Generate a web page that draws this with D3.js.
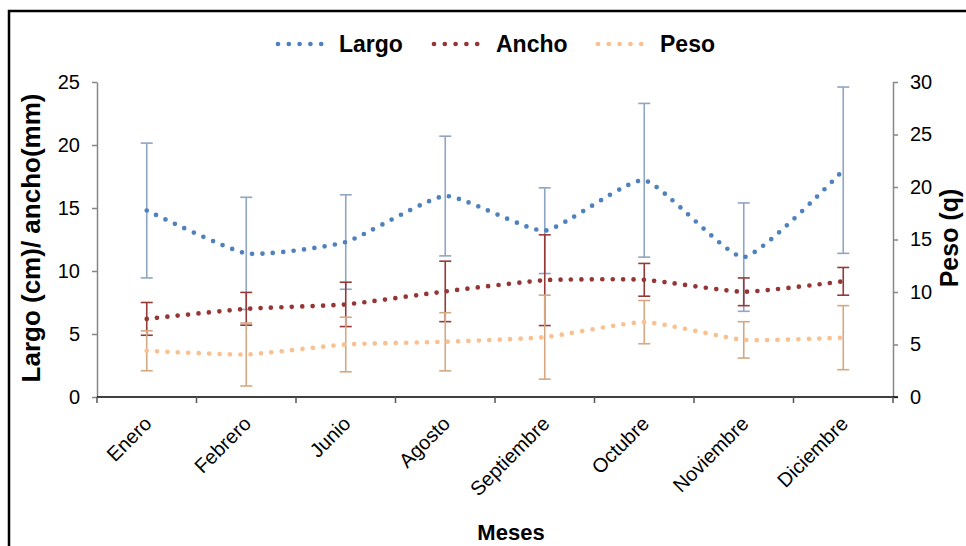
<!DOCTYPE html>
<html>
<head>
<meta charset="utf-8">
<script src="https://cdn.jsdelivr.net/npm/d3@7"></script>
<style>
  html, body { margin: 0; padding: 0; background: #fff; }
  svg { display: block; font-family: "Liberation Sans", Arial, sans-serif; }
</style>
</head>
<body>
<svg id="chart" width="966" height="546"></svg>
<script>
// Monthly measurements: mean and standard deviation per month
const months = ["Enero", "Febrero", "Junio", "Agosto", "Septiembre", "Octubre", "Noviembre", "Diciembre"];
const largo = [14.8, 11.4, 12.3, 15.95, 13.2, 17.2, 11.1, 18.0];
const largoSd = [5.35, 4.45, 3.75, 4.75, 3.4, 6.1, 4.3, 6.6];
const ancho = [6.2, 7.0, 7.35, 8.38, 9.27, 9.3, 8.35, 9.18];
const anchoSd = [1.3, 1.3, 1.76, 2.4, 3.6, 1.3, 1.1, 1.1];
const peso = [4.4, 4.05, 5.0, 5.26, 5.7, 7.13, 5.44, 5.65];
const pesoSd = [1.9, 3.0, 2.6, 2.77, 4.0, 2.06, 1.73, 3.05];
const leftTicks = [0, 5, 10, 15, 20, 25];
const rightTicks = [0, 5, 10, 15, 20, 25, 30];

const svg = d3.select("#chart");
const W = 966, H = 546;
const plot = { left: 97, right: 893, top: 82, bottom: 397 };

// Frame around the chart area
svg.append("path")
  .attr("d", `M9,${H} L9,11 L${W},11`)
  .attr("fill", "none").attr("stroke", "#000").attr("stroke-width", 2.5);

const x = d3.scaleBand().domain(months).range([plot.left, plot.right]);
const cx = m => x(m) + x.bandwidth() / 2;
const yL = d3.scaleLinear().domain([0, 25]).range([plot.bottom, plot.top]);
const yR = d3.scaleLinear().domain([0, 30]).range([plot.bottom, plot.top]);

// Left axis
const gL = svg.append("g").attr("transform", `translate(${plot.left},0)`)
  .call(d3.axisLeft(yL).tickValues(leftTicks).tickSize(5).tickSizeOuter(0).tickPadding(12));
gL.select(".domain").attr("stroke", "#868686").attr("stroke-width", 1.5);
gL.selectAll(".tick line").attr("stroke", "#868686").attr("stroke-width", 1.5);
gL.selectAll(".tick text").attr("font-size", 20).attr("fill", "#000")
  .attr("font-family", "Liberation Sans, Arial, sans-serif");

// Right axis
const gR = svg.append("g").attr("transform", `translate(${plot.right},0)`)
  .call(d3.axisRight(yR).tickValues(rightTicks).tickSize(5).tickSizeOuter(0).tickPadding(12));
gR.select(".domain").attr("stroke", "#868686").attr("stroke-width", 1.5);
gR.selectAll(".tick line").attr("stroke", "#868686").attr("stroke-width", 1.5);
gR.selectAll(".tick text").attr("font-size", 20).attr("fill", "#000")
  .attr("font-family", "Liberation Sans, Arial, sans-serif");

// Bottom axis: line with ticks at category boundaries
const gB = svg.append("g");
gB.append("line")
  .attr("x1", plot.left).attr("x2", plot.right + 5)
  .attr("y1", plot.bottom).attr("y2", plot.bottom)
  .attr("stroke", "#000").attr("stroke-width", 1.5);
const edges = months.map(m => x(m)).concat([x.range()[1]]);
gB.selectAll("line.tk").data(edges).join("line").attr("class", "tk")
  .attr("x1", d => d).attr("x2", d => d)
  .attr("y1", plot.bottom).attr("y2", plot.bottom + 6)
  .attr("stroke", "#555").attr("stroke-width", 1.5);
gB.selectAll("text.lab").data(months).join("text").attr("class", "lab")
  .attr("transform", d => `translate(${cx(d) + 6},${plot.bottom + 28}) rotate(-45)`)
  .attr("text-anchor", "end")
  .attr("font-size", 20).attr("fill", "#000")
  .text(d => d);

// Axis titles
svg.append("text")
  .attr("transform", `translate(31,238) rotate(-90)`)
  .attr("text-anchor", "middle").attr("dy", "0.35em")
  .attr("font-size", 26).attr("font-weight", "bold").text("Largo (cm)/ ancho(mm)");
svg.append("text")
  .attr("transform", `translate(950,238) rotate(-90)`)
  .attr("text-anchor", "middle").attr("dy", "0.3em")
  .attr("font-size", 25).attr("font-weight", "bold").text("Peso (q)");
svg.append("text")
  .attr("x", 511).attr("y", 540)
  .attr("text-anchor", "middle")
  .attr("font-size", 22).attr("font-weight", "bold").text("Meses");

const series = [
  { name: "Largo", values: largo, sd: largoSd, y: yL, color: "#4F81BD", err: "#8FA5C2" },
  { name: "Ancho", values: ancho, sd: anchoSd, y: yL, color: "#943634", err: "#963A37" },
  { name: "Peso", values: peso, sd: pesoSd, y: yR, color: "#FAC090", err: "#D4A882" }
];

// Error bars (mean ± sd)
const capW = 6;
series.forEach(s => {
  const g = svg.append("g").attr("stroke", s.err).attr("stroke-width", 1.6).attr("fill", "none");
  months.forEach((m, i) => {
    const xc = cx(m);
    const hi = s.y(s.values[i] + s.sd[i]);
    const lo = s.y(Math.max(0, s.values[i] - s.sd[i]));
    g.append("line").attr("x1", xc).attr("x2", xc).attr("y1", hi).attr("y2", lo);
    g.append("line").attr("x1", xc - capW).attr("x2", xc + capW).attr("y1", hi).attr("y2", hi);
    g.append("line").attr("x1", xc - capW).attr("x2", xc + capW).attr("y1", lo).attr("y2", lo);
  });
});

// Smoothed dotted lines
series.forEach(s => {
  const line = d3.line()
    .x((d, i) => cx(months[i]))
    .y(d => s.y(d))
    .curve(d3.curveCardinal.tension(0.5));
  svg.append("path")
    .datum(s.values)
    .attr("d", line)
    .attr("fill", "none")
    .attr("stroke", s.color)
    .attr("stroke-width", 4.7)
    .attr("stroke-linecap", "round")
    .attr("stroke-dasharray", "0 10.4");
});

// Legend
const legendPos = [{ x: 278, tx: 339 }, { x: 434, tx: 496 }, { x: 598, tx: 660 }];
series.forEach((s, i) => {
  const p = legendPos[i];
  svg.append("line")
    .attr("x1", p.x).attr("x2", p.x + 54)
    .attr("y1", 44).attr("y2", 44)
    .attr("stroke", s.color).attr("stroke-width", 4.7)
    .attr("stroke-linecap", "round").attr("stroke-dasharray", "0 10.8");
  svg.append("text")
    .attr("x", p.tx).attr("y", 44).attr("dy", "0.35em")
    .attr("font-size", 23).attr("font-weight", "bold").text(s.name);
});
</script>
</body>
</html>
